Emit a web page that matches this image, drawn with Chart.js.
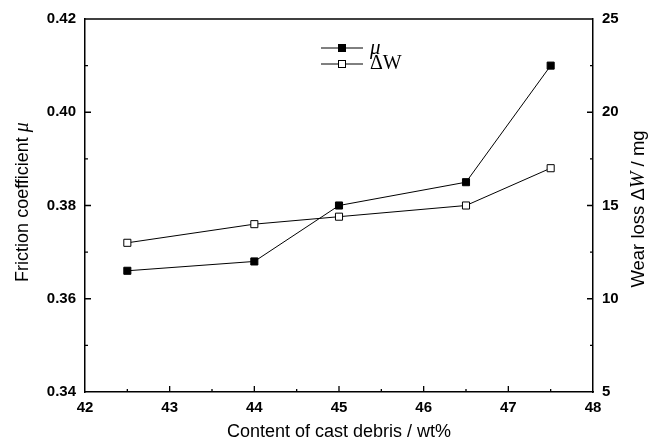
<!DOCTYPE html>
<html>
<head>
<meta charset="utf-8">
<script src="https://cdn.jsdelivr.net/npm/chart.js@4/dist/chart.umd.min.js"></script>
<style>
  html, body { margin: 0; padding: 0; background: #fff; }
  #wrap { width: 648px; height: 443px; }
</style>
</head>
<body>
<div id="wrap"><canvas id="chart"></canvas></div>
<script>
// values
const content = [42.5, 44, 45, 46.5, 47.5];
const friction = [0.366, 0.368, 0.380, 0.385, 0.410];
const wearLoss = [13.0, 14.0, 14.4, 15.0, 17.0];
const xTicks = [42, 43, 44, 45, 46, 47, 48];
const frictionTicks = [0.34, 0.36, 0.38, 0.40, 0.42];
const wearTicks = [5, 10, 15, 20, 25];

const SANS = '"Liberation Sans", Arial, sans-serif';
const SERIF = '"Liberation Serif", "Times New Roman", serif';

const midpoints = arr => arr.slice(1).map((v, i) => (v + arr[i]) / 2);

function drawRich(ctx, parts, x, y, rot) {
  ctx.save();
  ctx.translate(x, y);
  ctx.rotate(rot || 0);
  ctx.textBaseline = 'middle';
  ctx.textAlign = 'left';
  let total = 0;
  parts.forEach(p => { ctx.font = p.font; total += ctx.measureText(p.text).width; });
  let cx = -total / 2;
  parts.forEach(p => {
    ctx.font = p.font;
    ctx.fillText(p.text, cx, 0);
    cx += ctx.measureText(p.text).width;
  });
  ctx.restore();
}

const framePlugin = {
  id: 'frame',
  afterDraw(chart) {
    const ctx = chart.ctx;
    const a = chart.chartArea;
    const sx = chart.scales.x, sy = chart.scales.y, sy1 = chart.scales.y1;
    ctx.save();
    ctx.strokeStyle = '#000';
    ctx.fillStyle = '#000';

    // top edge of the frame
    ctx.lineWidth = 1.5;
    ctx.beginPath();
    ctx.moveTo(a.left, a.top);
    ctx.lineTo(a.right, a.top);
    ctx.stroke();

    // inward tick marks
    ctx.lineWidth = 1.3;
    ctx.beginPath();
    const xt = (vals, len) => vals.forEach(v => {
      const px = sx.getPixelForValue(v);
      ctx.moveTo(px, a.bottom); ctx.lineTo(px, a.bottom - len);
    });
    xt(xTicks.slice(1, -1), 6);
    xt(midpoints(xTicks), 3);
    const yt = (scale, vals, len, side) => vals.forEach(v => {
      const py = scale.getPixelForValue(v);
      if (side === 'left') { ctx.moveTo(a.left, py); ctx.lineTo(a.left + len, py); }
      else { ctx.moveTo(a.right, py); ctx.lineTo(a.right - len, py); }
    });
    yt(sy, frictionTicks.slice(1, -1), 6, 'left');
    yt(sy, midpoints(frictionTicks), 3, 'left');
    yt(sy1, wearTicks.slice(1, -1), 6, 'right');
    yt(sy1, midpoints(wearTicks), 3, 'right');
    ctx.stroke();

    // axis titles
    drawRich(ctx, [
      { text: 'Friction coefficient ', font: '18px ' + SANS },
      { text: 'μ', font: 'italic 20px ' + SERIF }
    ], 23, 202, -Math.PI / 2);
    drawRich(ctx, [
      { text: 'Wear loss ', font: '18.5px ' + SANS },
      { text: 'Δ', font: '18.5px ' + SANS },
      { text: 'W', font: 'italic 20px ' + SERIF },
      { text: ' / mg', font: '18.5px ' + SANS }
    ], 639, 209, -Math.PI / 2);
    drawRich(ctx, [
      { text: 'Content of cast debris / wt%', font: '18px ' + SANS }
    ], (a.left + a.right) / 2, 432, 0);

    // legend
    const rows = [
      { ds: chart.data.datasets[0], y: 48, text: 'μ', font: 'italic 21px ' + SERIF },
      { ds: chart.data.datasets[1], y: 64, text: 'ΔW', font: '20px ' + SERIF }
    ];
    rows.forEach(r => {
      ctx.lineWidth = 1;
      ctx.beginPath();
      ctx.moveTo(321, r.y); ctx.lineTo(363, r.y);
      ctx.stroke();
      ctx.fillStyle = r.ds.pointBackgroundColor;
      ctx.fillRect(338.5, r.y - 3.5, 7, 7);
      ctx.strokeRect(338.5, r.y - 3.5, 7, 7);
      ctx.fillStyle = '#000';
      ctx.font = r.font;
      ctx.textBaseline = 'middle';
      ctx.textAlign = 'left';
      ctx.fillText(r.text, 370, r.y);
    });
    ctx.restore();
  }
};

const tickFont = { family: SANS, size: 15, weight: 'bold' };

new Chart(document.getElementById('chart'), {
  type: 'line',
  data: {
    datasets: [
      {
        label: 'μ',
        data: content.map((x, i) => ({ x, y: friction[i] })),
        yAxisID: 'y',
        borderColor: '#000',
        borderWidth: 1,
        pointStyle: 'rect',
        pointRadius: 5,
        pointBorderWidth: 1,
        pointBorderColor: '#000',
        pointBackgroundColor: '#000',
        tension: 0
      },
      {
        label: 'ΔW',
        data: content.map((x, i) => ({ x, y: wearLoss[i] })),
        yAxisID: 'y1',
        borderColor: '#000',
        borderWidth: 1,
        pointStyle: 'rect',
        pointRadius: 5,
        pointBorderWidth: 1,
        pointBorderColor: '#000',
        pointBackgroundColor: '#fff',
        tension: 0
      }
    ]
  },
  options: {
    responsive: true,
    maintainAspectRatio: false,
    animation: false,
    layout: { padding: { top: 19, left: 0, right: 0, bottom: 0 } },
    plugins: { legend: { display: false }, tooltip: { enabled: false } },
    scales: {
      x: {
        type: 'linear',
        min: 42, max: 48,
        afterBuildTicks: s => { s.ticks = xTicks.map(v => ({ value: v })); },
        afterFit: s => { s.height = 51; },
        grid: { display: false, drawTicks: false },
        border: { display: true, color: '#000', width: 1.5 },
        ticks: { color: '#000', font: tickFont, padding: 7, maxRotation: 0 }
      },
      y: {
        position: 'left',
        min: 0.34, max: 0.42,
        afterBuildTicks: s => { s.ticks = frictionTicks.map(v => ({ value: v })); },
        afterFit: s => { s.width = 85; },
        grid: { display: false, drawTicks: false },
        border: { display: true, color: '#000', width: 1.5 },
        ticks: { color: '#000', font: tickFont, padding: 9, callback: v => v.toFixed(2) }
      },
      y1: {
        position: 'right',
        min: 5, max: 25,
        afterBuildTicks: s => { s.ticks = wearTicks.map(v => ({ value: v })); },
        afterFit: s => { s.width = 55; },
        grid: { display: false, drawTicks: false },
        border: { display: true, color: '#000', width: 1.5 },
        ticks: { color: '#000', font: tickFont, padding: 9 }
      }
    }
  },
  plugins: [framePlugin]
});
</script>
</body>
</html>
